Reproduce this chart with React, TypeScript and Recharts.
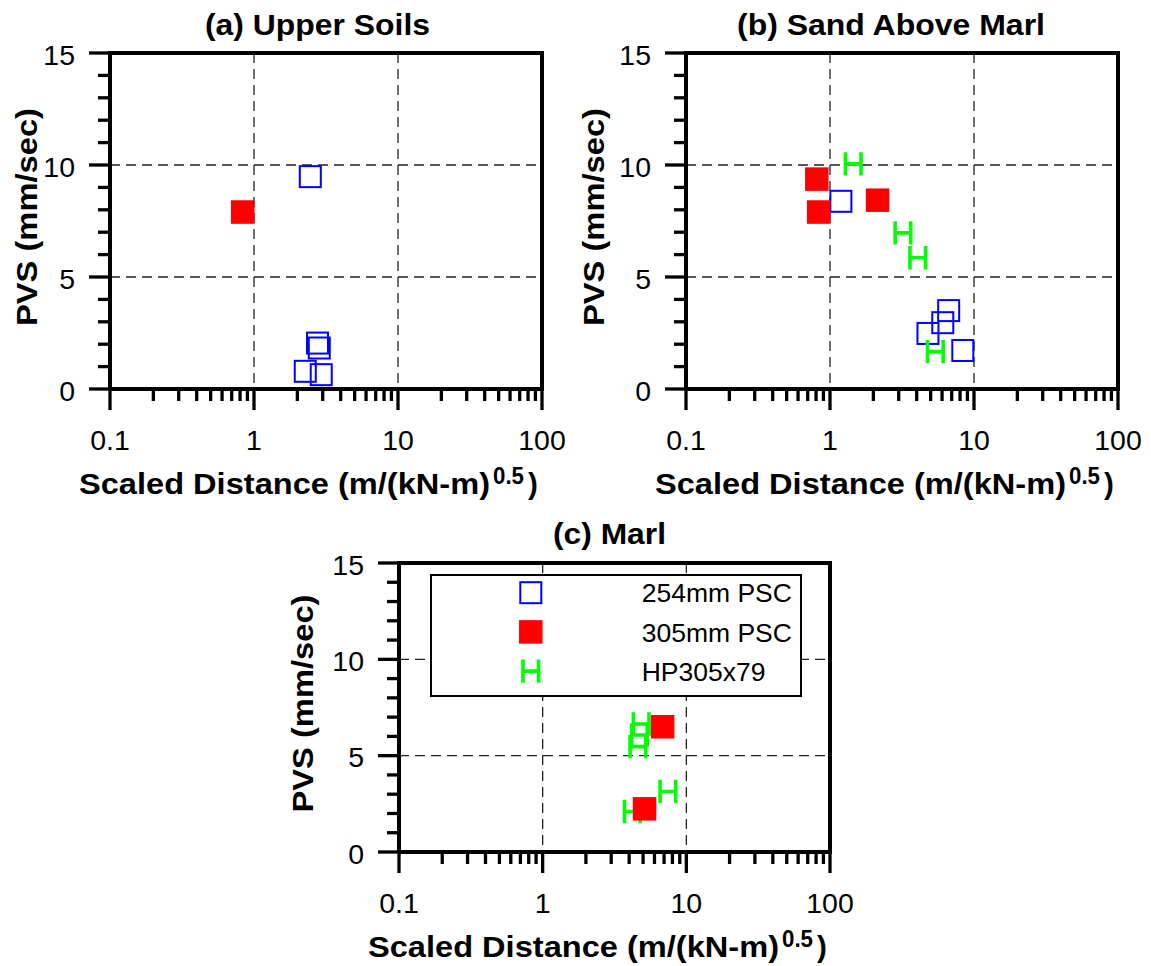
import React from 'react';
import { ScatterChart, Scatter, XAxis, YAxis, CartesianGrid, ReferenceLine, Legend } from 'recharts';

const FONT = '"Liberation Sans", Arial, Helvetica, sans-serif';

// ---------- axes ----------
const X_DOMAIN = [0.1, 100];
const Y_DOMAIN = [0, 15];
const X_TICKS = [
  0.1, 0.2, 0.3, 0.4, 0.5, 0.6, 0.7, 0.8, 0.9,
  1, 2, 3, 4, 5, 6, 7, 8, 9,
  10, 20, 30, 40, 50, 60, 70, 80, 90,
  100,
];
const X_MAJOR = [0.1, 1, 10, 100];
const Y_TICKS = [0, 1, 2, 3, 4, 5, 6, 7, 8, 9, 10, 11, 12, 13, 14, 15];
const Y_MAJOR = [0, 5, 10, 15];
const X_GRID = [1, 10];
const Y_GRID = [5, 10];

// ---------- series ----------
const SERIES = ['254mm PSC', '305mm PSC', 'HP305x79'];

// (a) Upper Soils
const A_PSC254_X = [2.46, 2.76, 2.84, 2.27, 2.93];
const A_PSC254_Y = [9.48, 2.05, 1.83, 0.79, 0.64];
const A_PSC305_X = [0.835];
const A_PSC305_Y = [7.9];
const A_HP_X: number[] = [];
const A_HP_Y: number[] = [];

// (b) Sand Above Marl
const B_PSC254_X = [1.19, 6.67, 6.07, 4.79, 8.36];
const B_PSC254_Y = [8.38, 3.5, 2.96, 2.48, 1.72];
const B_PSC305_X = [0.81, 0.835, 2.14];
const B_PSC305_Y = [9.37, 7.9, 8.43];
const B_HP_X = [1.45, 3.21, 4.07, 5.39];
const B_HP_Y = [10.05, 6.97, 5.86, 1.67];

// (c) Marl
const C_PSC254_X: number[] = [];
const C_PSC254_Y: number[] = [];
const C_PSC305_X = [6.84, 5.12];
const C_PSC305_Y = [6.5, 2.24];
const C_HP_X = [4.85, 4.72, 4.6, 7.44, 4.21];
const C_HP_Y = [6.64, 6.07, 5.47, 3.14, 2.1];

const TITLES = ['(a) Upper Soils', '(b) Sand Above Marl', '(c) Marl'];
const X_LABEL_MAIN = 'Scaled Distance (m/(kN-m)';
const X_LABEL_SUP = '0.5';
const Y_LABEL = 'PVS (mm/sec)';

const zip = (xs: number[], ys: number[]) => xs.map((x, i) => ({ x, y: ys[i] }));

// ---------- markers ----------
const drawMarker = (name: string, cx: number, cy: number, key?: string) => {
  if (name === '254mm PSC') {
    return <rect key={key} x={cx - 10.5} y={cy - 10.5} width={21} height={21} fill="none" stroke="#0000ff" strokeWidth={2} />;
  }
  if (name === '305mm PSC') {
    return <rect key={key} x={cx - 11.75} y={cy - 11.75} width={23.5} height={23.5} fill="#ff0000" />;
  }
  return (
    <path
      key={key}
      d={`M${cx - 7.8},${cy - 11.7}V${cy + 11.7}M${cx + 7.8},${cy - 11.7}V${cy + 11.7}M${cx - 7.8},${cy}H${cx + 7.8}`}
      stroke="#00ff00"
      strokeWidth={3.6}
      fill="none"
    />
  );
};

const shapeFor = (name: string) => (p: any) => drawMarker(name, p.cx, p.cy);

// ---------- ticks ----------
const XTick = (props: any) => {
  const { x, y, payload } = props;
  const v = payload.value;
  const major = X_MAJOR.includes(v);
  return (
    <g>
      <line x1={x} x2={x} y1={y} y2={y + (major ? 21 : 12)} stroke="#000" strokeWidth={3.3} />
      {major && (
        <text x={x} y={y + 61} textAnchor="middle" fontFamily={FONT} fontSize={28.5} fill="#000">
          {String(v)}
        </text>
      )}
    </g>
  );
};

const YTick = (props: any) => {
  const { x, y, payload } = props;
  const v = payload.value;
  const major = Y_MAJOR.includes(v);
  return (
    <g>
      <line x1={x - (major ? 21 : 12)} x2={x} y1={y} y2={y} stroke="#000" strokeWidth={3.3} />
      {major && (
        <text x={x - 35} y={y + 11.5} textAnchor="end" fontFamily={FONT} fontSize={28.5} fill="#000">
          {String(v)}
        </text>
      )}
    </g>
  );
};

// ---------- axis labels ----------
const makeXLabel = () => (props: any) => {
  const vb = props.viewBox || {};
  const x0 = vb.x - 31;
  const base = vb.y + 105;
  return (
    <g>
      <text x={x0} y={base} fontFamily={FONT} fontWeight="bold" fontSize={29.5} fill="#000" textLength={411} lengthAdjust="spacingAndGlyphs">
        {X_LABEL_MAIN}
      </text>
      <text x={x0 + 414} y={base - 10} fontFamily={FONT} fontWeight="bold" fontSize={23} fill="#000" textLength={31} lengthAdjust="spacingAndGlyphs">
        {X_LABEL_SUP}
      </text>
      <text x={x0 + 449} y={base} fontFamily={FONT} fontWeight="bold" fontSize={29.5} fill="#000">
        )
      </text>
    </g>
  );
};

const makeYLabel = (offset: number) => (props: any) => {
  const vb = props.viewBox || {};
  const bx = vb.x + vb.width - offset;
  const cy = vb.y + vb.height / 2 - 4;
  const len = 218;
  return (
    <text
      x={bx - len / 2}
      y={cy}
      transform={`rotate(-90 ${bx} ${cy})`}
      fontFamily={FONT}
      fontWeight="bold"
      fontSize={29.5}
      fill="#000"
      textLength={len}
      lengthAdjust="spacingAndGlyphs"
    >
      {Y_LABEL}
    </text>
  );
};

// ---------- legend ----------
const renderLegend = (props: any) => {
  const names: string[] =
    props && props.payload && props.payload.length
      ? props.payload.map((e: any) => String(e.value))
      : SERIES.slice();
  const ordered = names.slice().sort((a, b) => SERIES.indexOf(a) - SERIES.indexOf(b));
  return (
    <svg width={372} height={123} style={{ display: 'block' }}>
      <rect x={1} y={1} width={370} height={121} fill="#fff" stroke="#000" strokeWidth={2} />
      {ordered.map((n, i) => {
        const cy = 18.7 + i * 39.2;
        return (
          <g key={n}>
            {drawMarker(n, 100.8, cy)}
            <text x={211.7} y={cy + 9.6} fontFamily={FONT} fontSize={26.5} fill="#000">
              {n}
            </text>
          </g>
        );
      })}
    </svg>
  );
};

// ---------- panels ----------
type PanelCfg = {
  left: number;
  top: number;
  width: number;
  height: number;
  yAxisWidth: number;
  marginTop: number;
  marginRight: number;
  xAxisHeight: number;
  title: string;
  titleX: number;
  titleBase: number;
  titleWidth: number;
  yLabelOffset: number;
  psc254: { x: number; y: number }[];
  psc305: { x: number; y: number }[];
  hp: { x: number; y: number }[];
  legend?: boolean;
};

const PANELS: PanelCfg[] = [
  {
    left: 0, top: 0, width: 575, height: 505, yAxisWidth: 110, marginTop: 53, marginRight: 33, xAxisHeight: 116,
    title: TITLES[0], titleX: 205, titleBase: 35, titleWidth: 225, yLabelOffset: 73,
    psc254: zip(A_PSC254_X, A_PSC254_Y), psc305: zip(A_PSC305_X, A_PSC305_Y), hp: zip(A_HP_X, A_HP_Y),
  },
  {
    left: 575, top: 0, width: 576, height: 505, yAxisWidth: 111, marginTop: 53, marginRight: 33, xAxisHeight: 116,
    title: TITLES[1], titleX: 162, titleBase: 35, titleWidth: 308, yLabelOffset: 82,
    psc254: zip(B_PSC254_X, B_PSC254_Y), psc305: zip(B_PSC305_X, B_PSC305_Y), hp: zip(B_HP_X, B_HP_Y),
  },
  {
    left: 287, top: 510, width: 576, height: 456, yAxisWidth: 112, marginTop: 53, marginRight: 33, xAxisHeight: 114,
    title: TITLES[2], titleX: 266, titleBase: 34, titleWidth: 113, yLabelOffset: 86,
    psc254: zip(C_PSC254_X, C_PSC254_Y), psc305: zip(C_PSC305_X, C_PSC305_Y), hp: zip(C_HP_X, C_HP_Y),
    legend: true,
  },
];

const Panel = ({ cfg }: { cfg: PanelCfg }) => (
  <div style={{ position: 'absolute', left: cfg.left, top: cfg.top, width: cfg.width, height: cfg.height }}>
    <ScatterChart
      width={cfg.width}
      height={cfg.height}
      margin={{ top: cfg.marginTop, right: cfg.marginRight, bottom: 0, left: 0 }}
    >
      <CartesianGrid
        horizontalValues={Y_GRID}
        verticalValues={X_GRID}
        stroke="#222"
        strokeWidth={1.3}
        strokeDasharray="10 6"
        fill="none"
      />
      <XAxis
        type="number"
        dataKey="x"
        scale="log"
        domain={X_DOMAIN}
        ticks={X_TICKS}
        interval={0}
        allowDataOverflow
        height={cfg.xAxisHeight}
        tickSize={0}
        tickMargin={0}
        tickLine={false}
        axisLine={{ stroke: '#000', strokeWidth: 4 }}
        tick={(p: any) => <XTick {...p} />}
        label={{ content: makeXLabel() }}
      />
      <YAxis
        type="number"
        dataKey="y"
        domain={Y_DOMAIN}
        ticks={Y_TICKS}
        interval={0}
        allowDataOverflow
        width={cfg.yAxisWidth}
        tickSize={0}
        tickMargin={0}
        tickLine={false}
        axisLine={{ stroke: '#000', strokeWidth: 4 }}
        tick={(p: any) => <YTick {...p} />}
        label={{ content: makeYLabel(cfg.yLabelOffset) }}
      />
      <ReferenceLine y={15} stroke="#000" strokeWidth={4} strokeLinecap="square" ifOverflow="visible" />
      <ReferenceLine x={100} stroke="#000" strokeWidth={4} strokeLinecap="square" ifOverflow="visible" />
      <Scatter name={SERIES[0]} data={cfg.psc254} shape={shapeFor(SERIES[0])} isAnimationActive={false} />
      <Scatter name={SERIES[2]} data={cfg.hp} shape={shapeFor(SERIES[2])} isAnimationActive={false} />
      <Scatter name={SERIES[1]} data={cfg.psc305} shape={shapeFor(SERIES[1])} isAnimationActive={false} />
      {cfg.legend && (
        <Legend
          layout="vertical"
          align="center"
          verticalAlign="middle"
          width={372}
          height={123}
          content={renderLegend}
          wrapperStyle={{ left: 143, top: 64, width: 372, height: 123, margin: 0, padding: 0 }}
        />
      )}
    </ScatterChart>
    <svg
      width={cfg.width}
      height={cfg.titleBase + 12}
      style={{ position: 'absolute', left: 0, top: 0, pointerEvents: 'none' }}
    >
      <text
        x={cfg.titleX}
        y={cfg.titleBase}
        fontFamily={FONT}
        fontWeight="bold"
        fontSize={29.5}
        fill="#000"
        textLength={cfg.titleWidth}
        lengthAdjust="spacingAndGlyphs"
      >
        {cfg.title}
      </text>
    </svg>
  </div>
);

export default function App() {
  return (
    <div
      style={{
        position: 'absolute',
        left: 0,
        top: 0,
        width: 1151,
        height: 966,
        background: '#fff',
        fontFamily: FONT,
      }}
    >
      {PANELS.map((cfg, i) => (
        <Panel key={i} cfg={cfg} />
      ))}
    </div>
  );
}
